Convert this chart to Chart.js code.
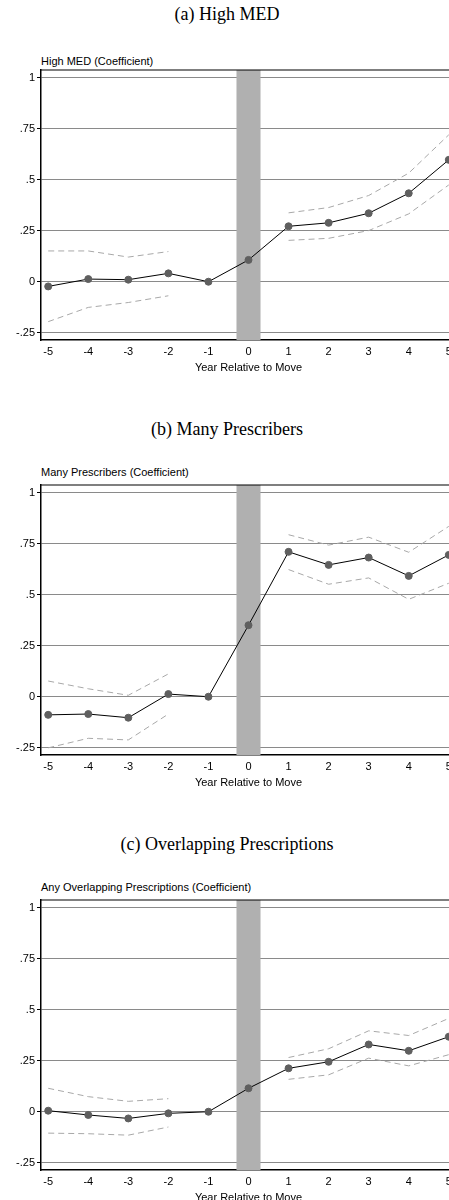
<!DOCTYPE html>
<html>
<head>
<meta charset="utf-8">
<script src="https://cdn.jsdelivr.net/npm/chart.js@4"></script>
<style>
  body { margin: 0; background: #fff; width: 449px; height: 1200px; overflow: hidden; position: relative; }
  .ptitle { position: absolute; left: 0; width: 454px; text-align: center; font-family: "Liberation Serif", serif; font-size: 18px; color: #000; }
  .sub { position: absolute; left: 41px; font-family: "Liberation Sans", Arial, sans-serif; font-size: 11px; color: #000; }
  .wrap { position: absolute; left: 0; width: 462px; height: 315px; }
</style>
</head>
<body>
<div class="ptitle" style="top:4px">(a) High MED</div>
<div class="sub" style="top:55px">High MED (Coefficient)</div>
<div class="wrap" style="top:60px"><canvas id="c0"></canvas></div>

<div class="ptitle" style="top:419px">(b) Many Prescribers</div>
<div class="sub" style="top:466px">Many Prescribers (Coefficient)</div>
<div class="wrap" style="top:475px"><canvas id="c1"></canvas></div>

<div class="ptitle" style="top:834px">(c) Overlapping Prescriptions</div>
<div class="sub" style="top:881px">Any Overlapping Prescriptions (Coefficient)</div>
<div class="wrap" style="top:890px"><canvas id="c2"></canvas></div>

<script>
// years relative to move
const years = [-5, -4, -3, -2, -1, 0, 1, 2, 3, 4, 5];
const yTicks = [-0.25, 0, 0.25, 0.5, 0.75, 1];

// (a) High MED
const medCoef  = [-0.023, 0.013, 0.010, 0.041, 0, 0.107, 0.272, 0.289, 0.336, 0.434, 0.598];
const medUpper = [0.151, 0.151, 0.121, 0.148, null, null, 0.338, 0.364, 0.423, 0.533, 0.721];
const medLower = [-0.196, -0.126, -0.102, -0.069, null, null, 0.203, 0.213, 0.251, 0.333, 0.475];

// (b) Many Prescribers
const presCoef  = [-0.089, -0.085, -0.103, 0.013, 0, 0.351, 0.711, 0.647, 0.683, 0.593, 0.696];
const presUpper = [0.077, 0.039, 0.007, 0.112, null, null, 0.795, 0.744, 0.783, 0.709, 0.836];
const presLower = [-0.251, -0.204, -0.212, -0.085, null, null, 0.624, 0.552, 0.583, 0.478, 0.557];

// (c) Overlapping Prescriptions
const overCoef  = [0.005, -0.016, -0.033, -0.008, 0, 0.115, 0.213, 0.245, 0.330, 0.299, 0.368];
const overUpper = [0.115, 0.074, 0.051, 0.064, null, null, 0.266, 0.309, 0.397, 0.374, 0.458];
const overLower = [-0.105, -0.108, -0.115, -0.075, null, null, 0.159, 0.181, 0.263, 0.225, 0.280];

const sansFont = "'Liberation Sans', Arial, sans-serif";

function pts(arr) {
    return years.map((x, i) => ({ x: x, y: arr[i] }));
}

function fmtY(v) {
    if (v === 0) return '0';
    if (v === 1) return '1';
    return String(v).replace('0.', '.');
}

// grey band around year 0 + frame
const bandPlugin = {
    id: 'band',
    beforeDatasetsDraw(chart) {
        const { ctx, chartArea, scales } = chart;
        const x0 = scales.x.getPixelForValue(-0.3);
        const x1 = scales.x.getPixelForValue(0.3);
        ctx.save();
        ctx.fillStyle = '#b0b0b0';
        ctx.fillRect(x0, chartArea.top, x1 - x0, chartArea.bottom - chartArea.top);
        ctx.strokeStyle = '#000';
        ctx.lineWidth = 1.2;
        ctx.beginPath();
        ctx.moveTo(chartArea.left, chartArea.top);
        ctx.lineTo(chartArea.right, chartArea.top);
        ctx.stroke();
        ctx.restore();
    }
};

function makeChart(id, coef, upper, lower) {
    const dashed = {
        borderColor: '#a8a8a8',
        borderWidth: 1,
        borderDash: [6, 4],
        pointRadius: 0,
        spanGaps: false,
        fill: false,
    };
    new Chart(document.getElementById(id), {
        type: 'line',
        data: {
            datasets: [
                Object.assign({ data: pts(upper) }, dashed),
                Object.assign({ data: pts(lower) }, dashed),
                {
                    data: pts(coef),
                    borderColor: '#000',
                    borderWidth: 1,
                    pointRadius: 3.5,
                    pointBackgroundColor: '#5f5f5f',
                    pointBorderColor: '#5f5f5f',
                    fill: false,
                },
            ],
        },
        options: {
            responsive: true,
            maintainAspectRatio: false,
            animation: false,
            layout: { padding: { top: 10, right: 6, left: 0, bottom: 0 } },
            plugins: { legend: { display: false }, tooltip: { enabled: false } },
            scales: {
                x: {
                    type: 'linear',
                    min: -5.18,
                    max: 5.18,
                    afterBuildTicks: (ax) => { ax.ticks = years.map(v => ({ value: v })); },
                    afterFit: (ax) => { ax.height = 35; },
                    grid: { display: false, drawTicks: true, tickLength: 4, tickColor: '#000' },
                    border: { color: '#000', width: 1.5 },
                    ticks: { color: '#000', font: { family: sansFont, size: 11 }, padding: 1, maxRotation: 0, autoSkip: false },
                    title: { display: true, text: 'Year Relative to Move', color: '#000', font: { family: sansFont, size: 11 }, padding: 0 },
                },
                y: {
                    min: -0.286,
                    max: 1.039,
                    afterBuildTicks: (ax) => { ax.ticks = yTicks.map(v => ({ value: v })); },
                    afterFit: (ax) => { ax.width = 41; },
                    grid: { color: '#8a8a8a', lineWidth: 1, tickLength: 4, tickColor: '#000' },
                    border: { color: '#000', width: 1.5 },
                    ticks: { color: '#000', font: { family: sansFont, size: 11 }, padding: 2, callback: fmtY },
                },
            },
        },
        plugins: [bandPlugin],
    });
}

makeChart('c0', medCoef, medUpper, medLower);
makeChart('c1', presCoef, presUpper, presLower);
makeChart('c2', overCoef, overUpper, overLower);
</script>
</body>
</html>
